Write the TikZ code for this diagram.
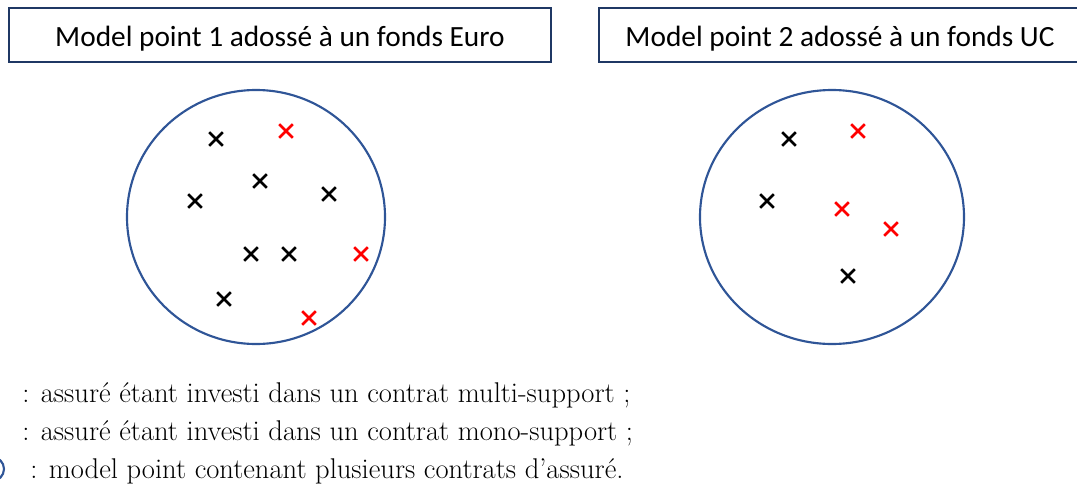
\documentclass[tikz,border=0pt]{standalone}
\usepackage{fontspec}
\setmainfont{Latin Modern Roman}
\newfontfamily\calib{Carlito}
\definecolor{navy}{HTML}{1F3864}
\definecolor{ringblue}{HTML}{2F5597}
\begin{document}
\begin{tikzpicture}[x=0.75pt,y=-0.75pt,
  titlebox/.style={draw=navy,line width=1.2pt,minimum width=542*0.75pt,minimum height=54*0.75pt,font=\calib\fontsize{22}{26}\selectfont,inner sep=0pt,text height=18pt,text depth=1pt},
  ring/.style={draw=ringblue,line width=1.6pt},
  xk/.style={line width=1.9pt,black},
  xr/.style={line width=1.9pt,red},
  legend/.style={anchor=base west,font=\fontsize{21.4}{25}\selectfont,inner sep=0pt}]
\clip (0,0) rectangle (1077,486);
\useasboundingbox (0,0) rectangle (1077,486);
% title boxes
\node[titlebox] (t1) at (280,35) {Model point 1 adossé à un fonds Euro};
\node[titlebox,minimum width=482*0.75pt] (t2) at (840,35) {Model point 2 adossé à un fonds UC};
% model point rings
\draw[ring] (256,217) ellipse (129 and 127);
\draw[ring] (832,217) ellipse (132 and 127);
% crosses: black = multi-support, red = mono-support
\foreach \p in {(216,139),(260,181),(195,201),(329,194),(251,254),(289,254),(224,299),(789,139),(767,201),(848,276)}
  \draw[xk] \p +(-6.8,-6.8) -- +(6.8,6.8) \p +(-6.8,6.8) -- +(6.8,-6.8);
\foreach \p in {(286,131),(361,254),(309,318),(858,131),(842,209),(891,229)}
  \draw[xr] \p +(-6.8,-6.8) -- +(6.8,6.8) \p +(-6.8,6.8) -- +(6.8,-6.8);
% legend
\node[legend] (l1) at (22,402) {: assuré étant investi dans un contrat multi-support ;};
\node[legend] (l2) at (22,440) {: assuré étant investi dans un contrat mono-support ;};
\node[legend] (l3) at (30,478) {: model point contenant plusieurs contrats d'assuré.};
\draw[ring] (-8,469) circle (12);
\end{tikzpicture}
\end{document}
